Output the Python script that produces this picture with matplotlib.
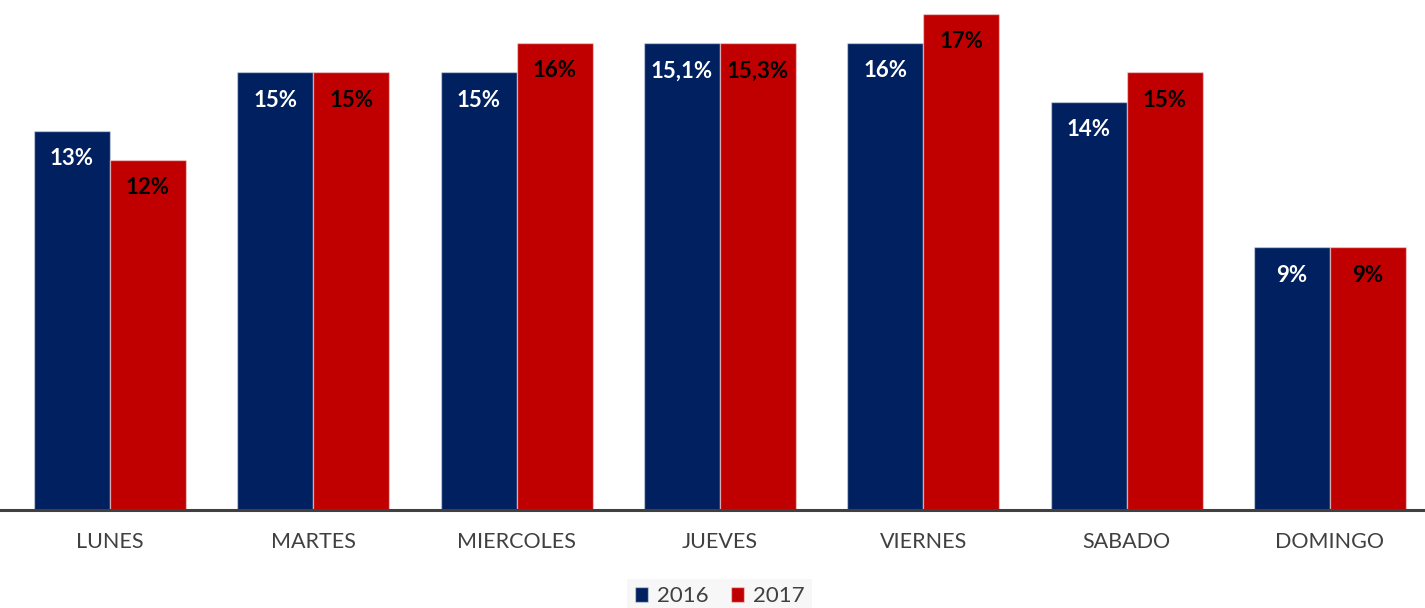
import numpy as np
import matplotlib.pyplot as plt
from matplotlib.patches import Patch

plt.rcParams['font.family'] = ['Lato', 'DejaVu Sans']

# Datos
dias = ["LUNES", "MARTES", "MIERCOLES", "JUEVES", "VIERNES", "SABADO", "DOMINGO"]
valores2016 = [13, 15, 15, 16, 16, 14, 9]
valores2017 = [12, 15, 16, 16, 17, 15, 9]
etiquetas2016 = ["13%", "15%", "15%", "15,1%", "16%", "14%", "9%"]
etiquetas2017 = ["12%", "15%", "16%", "15,3%", "17%", "15%", "9%"]

azul = "#002060"
rojo = "#C00000"
gris = "#404040"

fig = plt.figure(figsize=(14.25, 6.08), dpi=100)
ax = fig.add_axes([0.0, 0.161, 1.0, 0.839])

x = np.arange(len(dias))
ancho = 0.374

barras16 = ax.bar(x - ancho / 2, valores2016, ancho, color=azul,
                  edgecolor=(1, 1, 1, 0.45), linewidth=1)
barras17 = ax.bar(x + ancho / 2, valores2017, ancho, color=rojo,
                  edgecolor=(1, 1, 1, 0.45), linewidth=1)

# Etiquetas dentro de las barras
for b, txt in zip(barras16, etiquetas2016):
    ax.annotate(txt, (b.get_x() + b.get_width() / 2, b.get_height()),
                xytext=(0, -20), textcoords="offset points",
                ha="center", va="center", color="white",
                fontsize=16, fontweight="bold")
for b, txt in zip(barras17, etiquetas2017):
    ax.annotate(txt, (b.get_x() + b.get_width() / 2, b.get_height()),
                xytext=(0, -20), textcoords="offset points",
                ha="center", va="center", color="black",
                fontsize=16, fontweight="bold")

ax.set_xlim(-0.541, 6.468)
ax.set_ylim(0, 17.48)

ax.set_xticks(x)
ax.set_xticklabels(dias, fontsize=15.5, color=gris)
ax.tick_params(axis="x", length=0, pad=16)
ax.set_yticks([])

for lado in ["top", "right", "left"]:
    ax.spines[lado].set_visible(False)
ax.spines["bottom"].set_color(gris)
ax.spines["bottom"].set_linewidth(2.2)
ax.patch.set_alpha(0)

handles = [Patch(facecolor=azul, edgecolor=(1, 1, 1, 0.45)),
           Patch(facecolor=rojo, edgecolor=(1, 1, 1, 0.45))]
leg = fig.legend(handles, ["2016", "2017"], loc="lower center",
                 bbox_to_anchor=(0.505, -0.01), ncol=2, frameon=True,
                 fontsize=16, handlelength=0.6, handleheight=0.6,
                 handletextpad=0.4, columnspacing=1.0, borderaxespad=0,
                 borderpad=0.35, fancybox=False)
leg.get_frame().set_facecolor("#f5f5f5")
leg.get_frame().set_edgecolor("none")
for t in leg.get_texts():
    t.set_color(gris)

fig.savefig("out.png", dpi=100)
